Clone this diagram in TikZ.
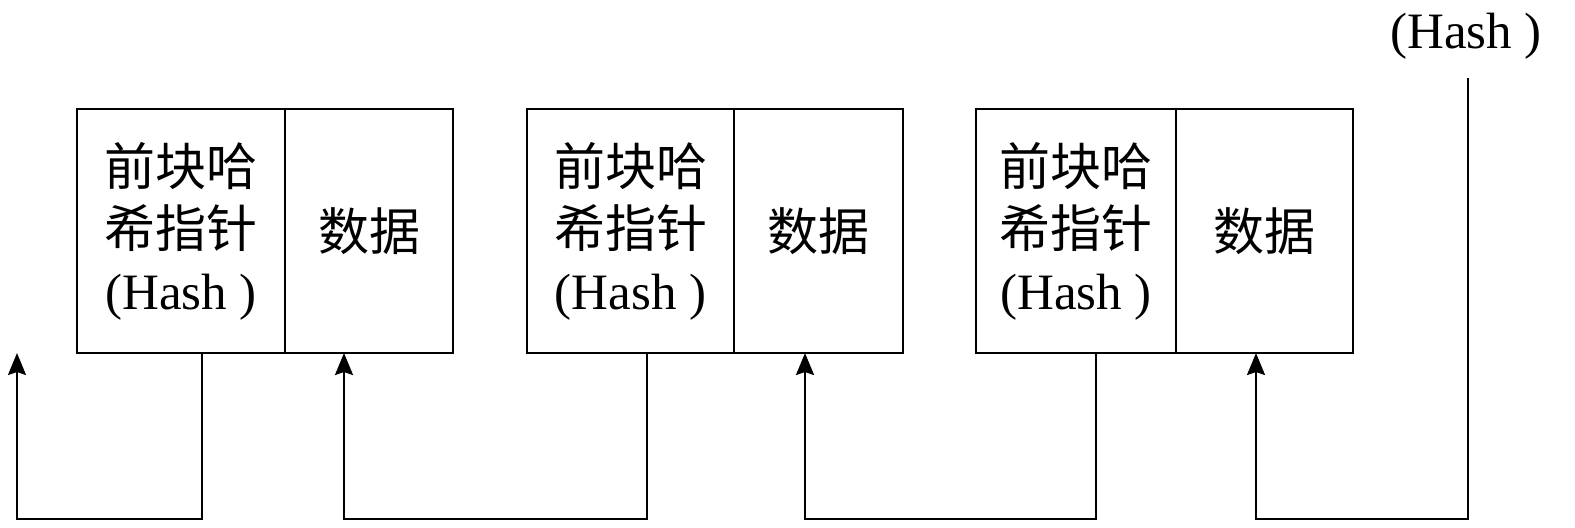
\documentclass[tikz,border=0pt]{standalone}
\usepackage{fontspec}
\setmainfont{Liberation Serif}
\newfontfamily\cjk{Noto Sans CJK SC}
\usetikzlibrary{calc,positioning,arrows.meta}

\tikzset{
  part/.style={rectangle,draw=black,line width=1.1pt,anchor=north west,minimum height=122pt,
    inner sep=0pt,outer sep=0pt,align=center,font=\fontsize{25.5}{31}\selectfont},
  link/.style={draw=black,line width=1.1pt,-{Stealth[length=11pt,width=9pt,inset=1.5pt]}}
}

\begin{document}
\begin{tikzpicture}[x=0.5pt,y=-0.5pt]

  \useasboundingbox (0,0) rectangle (1575,527);

  \foreach \i/\l/\m/\r/\o/\t in {1/77/285/453/202/344,2/527/734/903/647/805,3/976/1176/1353/1096/1256}
           {
             \node (prev_\i) [part,minimum width={(\m-\l)*0.5pt}] at(\l,109) {{\cjk 前块哈}\\{\cjk 希指针}\\(Hash )};
             \node (data_\i) [part,minimum width={(\r-\m)*0.5pt}] at(prev_\i.north east) {\cjk 数据};
             \coordinate (src_\i) at($(prev_\i.south west)+({\o-\l},0)$);
             \coordinate (dst_\i) at($(data_\i.south west)+({\t-\m},0)$);
           }

  \coordinate (gen) at(17,353);
  \node (hash_top) [font=\fontsize{25.5}{31}\selectfont] at(1466,36) {(Hash )};
  \coordinate (top) at(1468,78);

  \draw[link] (src_1) -- ++(0,166) -| (gen);
  \draw[link] (src_2) -- ++(0,166) -| (dst_1);
  \draw[link] (src_3) -- ++(0,166) -| (dst_2);
  \draw[link] (top) |- ($(dst_3)+(0,166)$) -- (dst_3);

\end{tikzpicture}
\end{document}
